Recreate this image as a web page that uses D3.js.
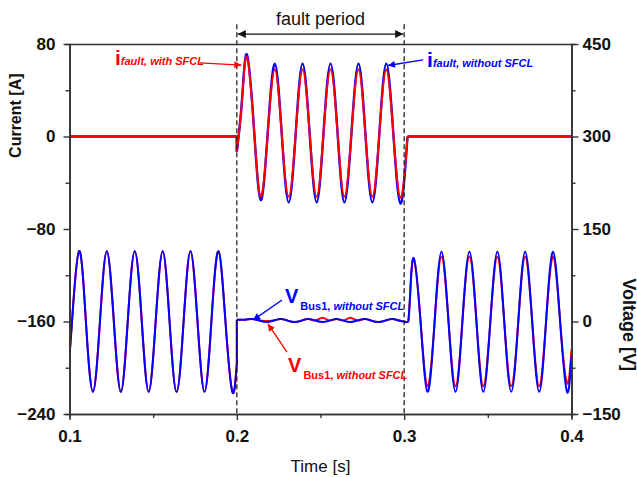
<!DOCTYPE html>
<html>
<head>
<meta charset="utf-8">
<script src="https://cdn.jsdelivr.net/npm/d3@7"></script>
<style>
  body { margin: 0; background: #fff; }
  svg { display: block; font-family: "Liberation Sans", Arial, sans-serif; }
</style>
</head>
<body>
<div id="chart"></div>
<script>
// ---- values ----
const timeTicks = [0.1, 0.2, 0.3, 0.4]
const timeMinor = [0.15, 0.25, 0.35]
const currentTicks = [80, 0, -80, -160, -240]
const currentMinor = [40, -40, -120, -200]
const voltageTicks = [450, 300, 150, 0, -150]
const voltageMinor = [375, 225, 75, -75]
const faultWindow = [0.2, 0.3]

// fault current [A], zero outside the fault in both cases
const iBefore = [[0.1, 0], [0.2, 0], [0.2, -13]]
const iAfter = [[0.302, 0], [0.4, 0]]
const iFaultNoSfcl = [[0.2000, -13], [0.2030, 30], [0.2060, 71], [0.2102, 8], [0.2143, -55], [0.2185, 4],
  [0.2227, 63], [0.2268, 3], [0.2310, -57], [0.2352, 3], [0.2393, 63], [0.2435, 3], [0.2477, -57],
  [0.2518, 3], [0.2560, 63], [0.2602, 3], [0.2643, -57], [0.2685, 3], [0.2727, 63], [0.2768, 3],
  [0.2810, -57], [0.2852, 3], [0.2893, 63], [0.2935, 3], [0.2978, -58], [0.3020, 0]]
const iFaultSfcl = [[0.2000, -13], [0.2030, 29], [0.2060, 69], [0.2102, 7], [0.2143, -52], [0.2185, 3],
  [0.2227, 58], [0.2268, 3], [0.2310, -52], [0.2352, 3], [0.2393, 58], [0.2435, 3], [0.2477, -52],
  [0.2518, 3], [0.2560, 58], [0.2602, 3], [0.2643, -52], [0.2685, 3], [0.2727, 58], [0.2768, 3],
  [0.2810, -52], [0.2852, 3], [0.2893, 58], [0.2935, 3], [0.2978, -53], [0.3020, 0]]

// bus voltage [V]; before the fault both cases lie on top of each other
const vBefore = [[0.1000, -55], [0.1015, 0], [0.1057, 114], [0.1098, 0], [0.1140, -114], [0.1182, 0],
  [0.1223, 114], [0.1265, 0], [0.1307, -114], [0.1348, 0], [0.1390, 114], [0.1432, 0], [0.1473, -114],
  [0.1515, 0], [0.1557, 114], [0.1598, 0], [0.1640, -114], [0.1682, 0], [0.1723, 114], [0.1765, 0],
  [0.1807, -114], [0.1848, 0], [0.1890, 114], [0.1932, 0], [0.1973, -114], [0.2000, -68]]
const vStep = [[0.2, -68], [0.2, 3]]
const vFaultNoSfcl = [[0.2000, 3], [0.2050, 3], [0.2095, 4], [0.2137, 1.5], [0.2178, -1], [0.2220, 1.5],
  [0.2262, 4], [0.2303, 1.5], [0.2345, -1], [0.2387, 1.5], [0.2428, 4], [0.2470, 1.5], [0.2512, -1],
  [0.2553, 1.5], [0.2595, 4], [0.2637, 1.5], [0.2678, -1], [0.2720, 1.5], [0.2762, 4], [0.2803, 1.5],
  [0.2845, -1], [0.2887, 1.5], [0.2928, 4], [0.2970, 1.5], [0.3012, -1], [0.3025, 0]]
const vFaultSfcl = [[0.2000, 3], [0.2050, 3], [0.2095, 4], [0.2137, 1.5], [0.2178, 1], [0.2220, 1.5],
  [0.2262, 4], [0.2303, 1.5], [0.2345, -1], [0.2387, 1.5], [0.2428, 4], [0.2470, 1.5], [0.2512, 6],
  [0.2553, 1.5], [0.2595, 4], [0.2637, 1.5], [0.2678, 6], [0.2720, 1.5], [0.2762, 4], [0.2803, 1.5],
  [0.2845, -1], [0.2887, 1.5], [0.2928, 4], [0.2970, 1.5], [0.3012, -1], [0.3025, 0]]
const vAfterNoSfcl = [[0.3025, 0], [0.3035, 40], [0.3057, 103], [0.3098, 0], [0.3140, -114], [0.3182, 0],
  [0.3223, 113], [0.3265, 0], [0.3307, -114], [0.3348, 0], [0.3390, 113], [0.3432, 0], [0.3473, -114],
  [0.3515, 0], [0.3557, 113], [0.3598, 0], [0.3640, -114], [0.3682, 0], [0.3723, 113], [0.3765, 0],
  [0.3807, -114], [0.3848, 0], [0.3890, 113], [0.3932, 0], [0.3973, -114], [0.4000, -55]]
const vAfterSfcl = [[0.3025, 0], [0.3035, 40], [0.3057, 102], [0.3098, 0], [0.3140, -105], [0.3182, 0],
  [0.3223, 105], [0.3265, 0], [0.3307, -105], [0.3348, 0], [0.3390, 105], [0.3432, 0], [0.3473, -105],
  [0.3515, 0], [0.3557, 105], [0.3598, 0], [0.3640, -105], [0.3682, 0], [0.3723, 105], [0.3765, 0],
  [0.3807, -105], [0.3848, 0], [0.3890, 105], [0.3932, 0], [0.3973, -100], [0.4000, -45]]

// set up the dimension for the chart
const margin = { top: 44, right: 65.5, bottom: 63, left: 69.5 }
const width = 637 - margin.left - margin.right
const height = 477 - margin.top - margin.bottom

const RED = "#ff0000"
const BLUE = "#0000ff"
const AXIS = "#333"

const svgRoot = d3.select("#chart").append("svg")
    .attr("width", 637)
    .attr("height", 477)

const defs = svgRoot.append("defs")
function addArrow(id, color, w, h) {
  defs.append("marker")
    .attr("id", id)
    .attr("viewBox", "0 0 10 10")
    .attr("refX", 10).attr("refY", 5)
    .attr("markerUnits", "userSpaceOnUse")
    .attr("markerWidth", w).attr("markerHeight", h)
    .attr("orient", "auto-start-reverse")
    .append("path")
    .attr("d", "M0,0 L10,5 L0,10 z")
    .attr("fill", color)
}
addArrow("arRed", RED, 9, 7)
addArrow("arBlue", BLUE, 9, 7)
addArrow("arBlack", "#111", 12, 8)

defs.append("clipPath").attr("id", "plotClip")
  .append("rect").attr("x", 0).attr("y", 0).attr("width", width).attr("height", height)

const svg = svgRoot.append("g")
    .attr("transform", "translate(" + margin.left + "," + margin.top + ")")

// scales
const x = d3.scaleLinear().domain([0.1, 0.4]).range([0, width])
const yI = d3.scaleLinear().domain([-240, 80]).range([height, 0])
const yV = d3.scaleLinear().domain([-150, 450]).range([height, 0])

const lineI = d3.line().x(d => x(d[0])).y(d => yI(d[1]))
const lineV = d3.line().x(d => x(d[0])).y(d => yV(d[1]))
const smoothI = d3.line().x(d => x(d[0])).y(d => yI(d[1])).curve(d3.curveNatural)
const smoothV = d3.line().x(d => x(d[0])).y(d => yV(d[1])).curve(d3.curveNatural)

const curves = svg.append("g").attr("clip-path", "url(#plotClip)")
function draw(gen, data, color, w) {
  curves.append("path")
    .attr("d", gen(data))
    .attr("fill", "none")
    .attr("stroke", color)
    .attr("stroke-width", w)
    .attr("stroke-linejoin", "round")
}

// voltage: with SFCL underneath, without SFCL on top
draw(smoothV, vBefore, RED, 2)
draw(lineV, vStep, RED, 2)
draw(smoothV, vFaultSfcl, RED, 2)
draw(smoothV, vAfterSfcl, RED, 2)
draw(smoothV, vBefore, BLUE, 2)
draw(lineV, vStep, BLUE, 2)
draw(smoothV, vFaultNoSfcl, BLUE, 2)
draw(smoothV, vAfterNoSfcl, BLUE, 2)

// current: without SFCL underneath, with SFCL on top
draw(lineI, iBefore, BLUE, 2.6)
draw(lineI, iAfter, BLUE, 2.6)
draw(smoothI, iFaultNoSfcl, BLUE, 2.4)
draw(lineI, iBefore, RED, 2)
draw(lineI, iAfter, RED, 2)
draw(smoothI, iFaultSfcl, RED, 2)

// dashed markers of the fault window
svg.selectAll("line.fault")
  .data(faultWindow)
  .enter()
  .append("line")
  .attr("class", "fault")
  .attr("x1", d => x(d)).attr("x2", d => x(d))
  .attr("y1", yI(97)).attr("y2", height)
  .style("stroke", "#222")
  .style("stroke-width", 1.3)
  .style("stroke-dasharray", "5 3")

// axes
function styleAxis(g) {
  g.selectAll(".domain").attr("stroke", AXIS).attr("stroke-width", 1.6)
  g.selectAll(".tick line").attr("stroke", AXIS).attr("stroke-width", 1.4)
  g.selectAll("text").attr("fill", "#111").style("font-size", "17px").style("font-weight", "bold")
}

svg.append("g")
  .call(d3.axisLeft(yI).tickValues(currentTicks).tickSize(6).tickSizeOuter(0).tickPadding(8))
  .call(styleAxis)
svg.append("g")
  .call(d3.axisLeft(yI).tickValues(currentMinor).tickSize(4).tickFormat(""))
  .call(styleAxis)

svg.append("g")
  .attr("transform", "translate(" + width + ",0)")
  .call(d3.axisRight(yV).tickValues(voltageTicks).tickSize(7).tickSizeOuter(0).tickPadding(4))
  .call(styleAxis)
svg.append("g")
  .attr("transform", "translate(" + width + ",0)")
  .call(d3.axisRight(yV).tickValues(voltageMinor).tickSize(4).tickFormat(""))
  .call(styleAxis)

svg.append("g")
  .attr("transform", "translate(0," + height + ")")
  .call(d3.axisBottom(x).tickValues(timeTicks).tickSize(6).tickSizeOuter(0).tickPadding(10).tickFormat(d3.format(".1f")))
  .call(styleAxis)
svg.append("g")
  .attr("transform", "translate(0," + height + ")")
  .call(d3.axisBottom(x).tickValues(timeMinor).tickSize(4).tickFormat(""))
  .call(styleAxis)

// top frame line
svg.append("g")
  .call(d3.axisTop(x).tickValues([]).tickSizeOuter(0))
  .call(styleAxis)

// axis titles
svg.append("text")
  .text("Time [s]")
  .attr("x", width / 2)
  .attr("y", height + 58)
  .style("text-anchor", "middle")
  .style("font-size", "17px")
  .attr("fill", "#111")

svg.append("text")
  .text("Current [A]")
  .attr("transform", "translate(" + (-48.5) + "," + yI(18) + ") rotate(-90)")
  .style("text-anchor", "middle")
  .style("font-size", "16px")
  .style("font-weight", "bold")
  .attr("fill", "#111")

svg.append("text")
  .text("Voltage [V]")
  .attr("transform", "translate(" + (width + 51) + "," + yV(-5) + ") rotate(90)")
  .style("text-anchor", "middle")
  .style("font-size", "18px")
  .style("font-weight", "bold")
  .attr("fill", "#111")

// fault period arrow and caption
svg.append("line")
  .attr("x1", x(faultWindow[0]) + 1).attr("x2", x(faultWindow[1]) - 1)
  .attr("y1", yI(88.6)).attr("y2", yI(88.6))
  .attr("stroke", "#111").attr("stroke-width", 1.3)
  .attr("marker-start", "url(#arBlack)")
  .attr("marker-end", "url(#arBlack)")

svg.append("text")
  .text("fault period")
  .attr("x", x(0.25))
  .attr("y", yI(96.4))
  .style("text-anchor", "middle")
  .style("font-size", "18px")
  .attr("fill", "#111")

// curve labels with pointer arrows (positions in data units)
function pointer(scale, from, to, color, marker) {
  svg.append("line")
    .attr("x1", x(from[0])).attr("y1", scale(from[1]))
    .attr("x2", x(to[0])).attr("y2", scale(to[1]))
    .attr("stroke", color).attr("stroke-width", 1.3)
    .attr("marker-end", "url(#" + marker + ")")
}
function label(scale, at, main, subA, subB, color) {
  const t = svg.append("text")
    .attr("x", x(at[0])).attr("y", scale(at[1]))
    .attr("fill", color)
    .style("font-weight", "bold")
  t.append("tspan").text(main).style("font-size", main === "i" ? "21px" : "20px")
  const s = t.append("tspan").attr("dx", main === "i" ? 3 : 2).attr("dy", 7).style("font-size", "11px")
  if (subA) s.text(subA)
  t.append("tspan").text(subB).style("font-size", "11px").style("font-style", "italic")
}

pointer(yI, [0.178, 63.6], [0.2027, 61.8], RED, "arRed")
label(yI, [0.1272, 61.8], "i", null, "fault, with SFCL", RED)

pointer(yI, [0.3113, 66.2], [0.2903, 61.4], BLUE, "arBlue")
label(yI, [0.3137, 60.1], "i", null, "fault, without SFCL", BLUE)

pointer(yV, [0.2270, 34.9], [0.2097, 2.4], BLUE, "arBlue")
label(yV, [0.2288, 30], "V", "Bus1, ", "without SFCL", BLUE)

pointer(yV, [0.2300, -49.5], [0.2186, -4], RED, "arRed")
label(yV, [0.2306, -81.9], "V", "Bus1, ", "without SFCL", RED)
</script>
</body>
</html>
